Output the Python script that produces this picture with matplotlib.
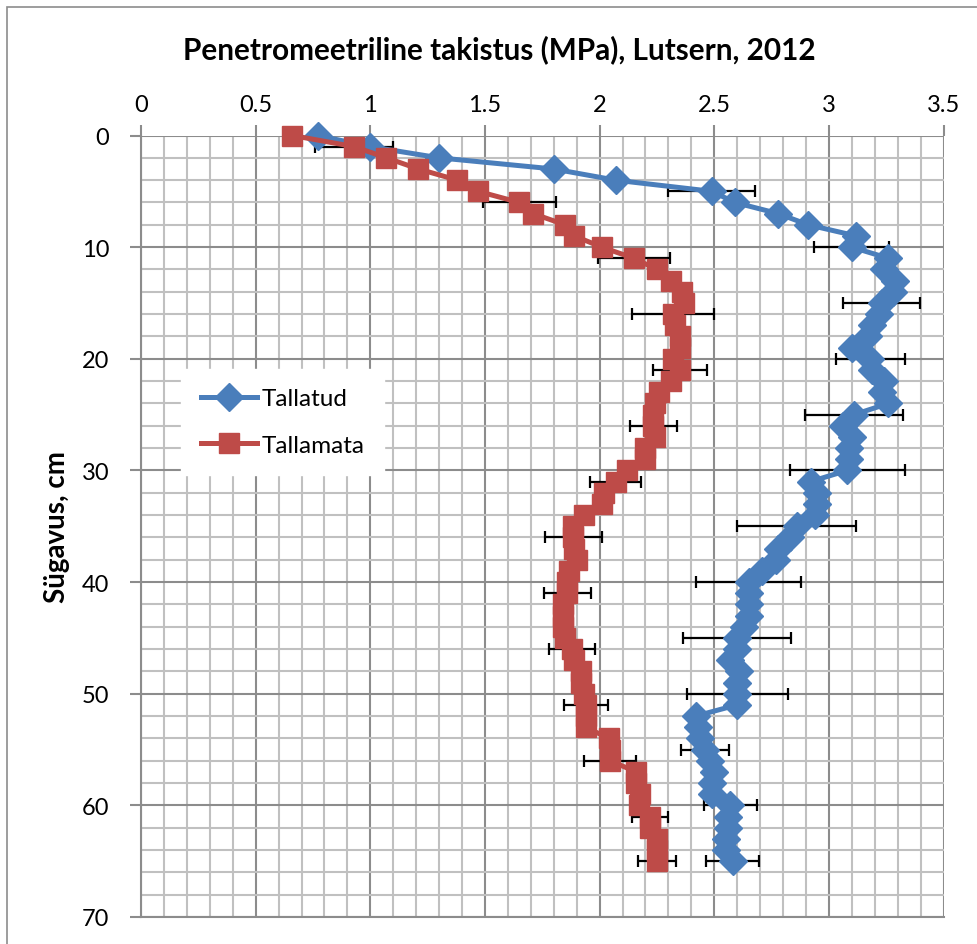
import numpy as np
import matplotlib.pyplot as plt
from matplotlib.ticker import MultipleLocator
from matplotlib.patches import Rectangle

# depth of each reading, cm
depth = [0, 1, 2, 3, 4, 5, 6, 7, 8, 9, 10, 11, 12, 13, 14, 15, 16, 17, 18, 19, 20, 21,
         22, 23, 24, 25, 26, 27, 28, 29, 30, 31, 32, 33, 34, 35, 36, 37, 38, 39, 40, 41, 42, 43,
         44, 45, 46, 47, 48, 49, 50, 51, 52, 53, 54, 55, 56, 57, 58, 59, 60, 61, 62, 63, 64, 65]

# penetrometer resistance, MPa
tallatud = [0.77, 1.00, 1.30, 1.80, 2.07, 2.49, 2.59, 2.78, 2.91, 3.12, 3.10, 3.26, 3.24,
            3.29, 3.28, 3.23, 3.22, 3.19, 3.17, 3.10, 3.18, 3.19, 3.24, 3.23, 3.26, 3.11,
            3.06, 3.10, 3.09, 3.09, 3.08, 2.92, 2.95, 2.95, 2.94, 2.86, 2.83, 2.78, 2.77,
            2.71, 2.65, 2.65, 2.65, 2.65, 2.63, 2.60, 2.60, 2.57, 2.61, 2.60, 2.60, 2.60,
            2.42, 2.43, 2.44, 2.46, 2.48, 2.50, 2.49, 2.49, 2.57, 2.56, 2.56, 2.55, 2.55, 2.58]
tallamata = [0.66, 0.93, 1.07, 1.21, 1.38, 1.47, 1.65, 1.71, 1.85, 1.89, 2.01, 2.15, 2.25,
             2.31, 2.36, 2.37, 2.32, 2.33, 2.35, 2.35, 2.32, 2.35, 2.31, 2.26, 2.24, 2.235,
             2.235, 2.24, 2.20, 2.20, 2.12, 2.07, 2.02, 2.01, 1.93, 1.885, 1.885, 1.89, 1.90,
             1.865, 1.86, 1.86, 1.84, 1.84, 1.84, 1.85, 1.88, 1.89, 1.92, 1.92, 1.93, 1.94,
             1.94, 1.94, 2.04, 2.045, 2.045, 2.16, 2.16, 2.175, 2.17, 2.22, 2.22, 2.25, 2.25, 2.25]

# error bars (depth, half width)
err_tallatud_depth = [5, 10, 15, 20, 25, 30, 35, 40, 45, 50, 55, 60, 65]
err_tallatud = [0.19, 0.163, 0.169, 0.15, 0.215, 0.25, 0.26, 0.23, 0.236, 0.22, 0.105, 0.116, 0.117]
err_tallamata_depth = [1, 6, 11, 16, 21, 26, 31, 36, 41, 46, 51, 56, 61, 65]
err_tallamata = [0.17, 0.158, 0.157, 0.18, 0.118, 0.103, 0.11, 0.125, 0.104, 0.10, 0.097,
                 0.115, 0.078, 0.083]

blue = '#4A7EBB'
red = '#BE4B48'

plt.rcParams['font.family'] = ['Lato', 'DejaVu Sans']

fig = plt.figure(figsize=(9.77, 9.45), dpi=100)
# outer chart border
fig.patches.append(Rectangle((7 / 977, -0.1), 1.2, 1.1 - 8 / 945,
                             transform=fig.transFigure, fill=False,
                             edgecolor='#8c8c8c', linewidth=1.2))
ax = fig.add_axes([141 / 977, 1 - 918 / 945, 802.5 / 977, 781.5 / 945])

ax.set_xlim(0, 3.5)
ax.set_ylim(70, 0)
ax.xaxis.tick_top()
ax.xaxis.set_minor_locator(MultipleLocator(0.1))
ax.yaxis.set_major_locator(MultipleLocator(10))
ax.yaxis.set_minor_locator(MultipleLocator(2))
ax.set_xticks([0, 0.5, 1, 1.5, 2, 2.5, 3, 3.5])
ax.set_xticklabels(['0', '0.5', '1', '1.5', '2', '2.5', '3', '3.5'])

ax.grid(which='minor', color='#c0c0c0', linewidth=1.5)
ax.grid(which='major', color='#8c8c8c', linewidth=1.5)
ax.set_axisbelow(True)
ax.tick_params(which='major', length=8, width=1.5, color='#8c8c8c', labelsize=17)
ax.tick_params(axis='x', pad=7)
ax.tick_params(axis='y', pad=15)
ax.tick_params(which='minor', length=0)
for side in ['top', 'right']:
    ax.spines[side].set_visible(False)
for side in ['left', 'bottom']:
    ax.spines[side].set_color('#8c8c8c')
    ax.spines[side].set_linewidth(1.5)

ax.errorbar([tallatud[d] for d in err_tallatud_depth], err_tallatud_depth,
            xerr=err_tallatud, fmt='none', ecolor='black',
            elinewidth=1.6, capsize=4.5, capthick=1.6, zorder=3)
ax.errorbar([tallamata[d] for d in err_tallamata_depth], err_tallamata_depth,
            xerr=err_tallamata, fmt='none', ecolor='black',
            elinewidth=1.6, capsize=4.5, capthick=1.6, zorder=3)

ax.plot(tallatud, depth, color=blue, linewidth=3.6, marker='D', markersize=14,
        label='Tallatud', zorder=4, clip_on=False)
ax.plot(tallamata, depth, color=red, linewidth=3.6, marker='s', markersize=14.5,
        label='Tallamata', zorder=5, clip_on=False)

leg = ax.legend(loc='upper left', bbox_to_anchor=(0.035, 0.717), fontsize=17.5,
                frameon=True, fancybox=False, handlelength=2.3, handletextpad=0.2,
                labelspacing=1.05, borderpad=0.8)
leg.get_frame().set_facecolor('white')
leg.get_frame().set_edgecolor('white')
leg.get_frame().set_alpha(1)

ax.set_ylabel('Sügavus, cm', fontsize=20, fontweight='bold', labelpad=8)
fig.text(0.511, 1 - 50 / 945, 'Penetromeetriline takistus (MPa), Lutsern, 2012',
         ha='center', va='center', fontsize=21.4, fontweight='bold')

fig.savefig('out.png', dpi=100)
